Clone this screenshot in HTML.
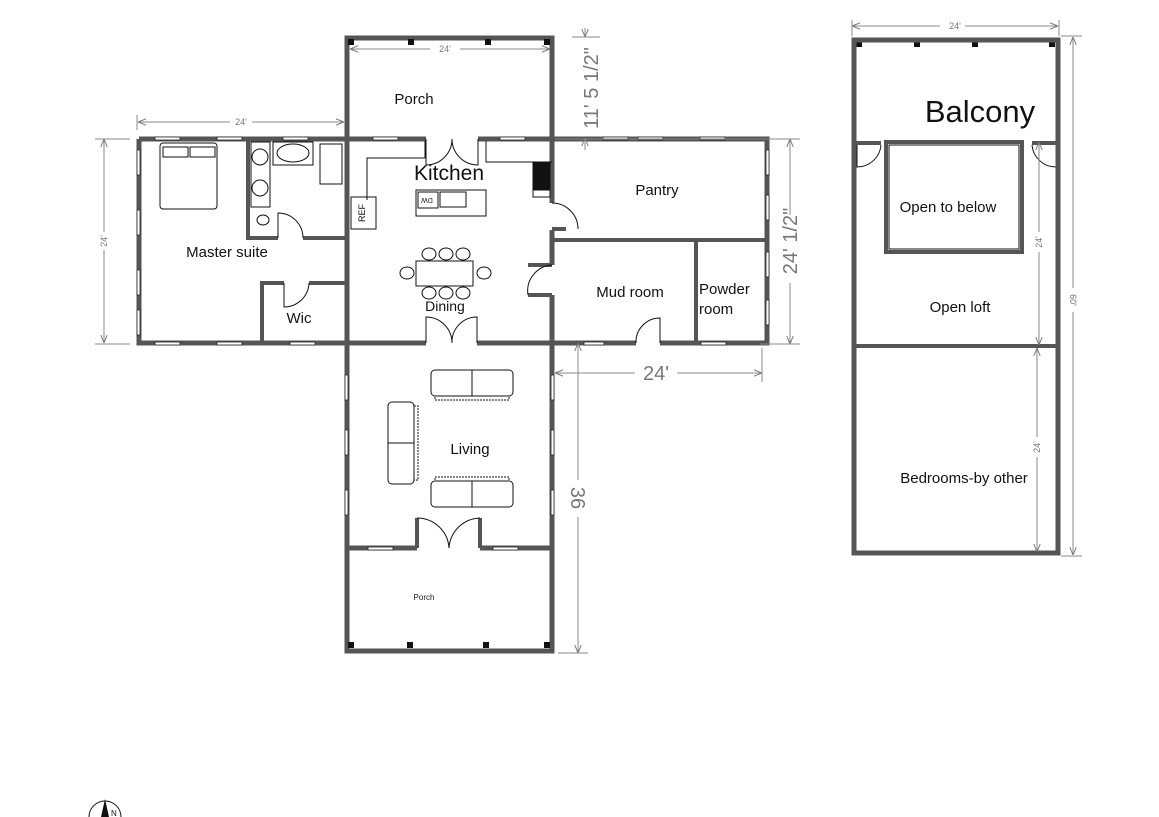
<!DOCTYPE html>
<html><head><meta charset="utf-8"><style>
html,body{margin:0;padding:0;background:#fff}
svg{display:block}
text{font-family:"Liberation Sans",sans-serif;fill:#111}
.w{fill:none;stroke:#555;stroke-width:5}
.iw{fill:none;stroke:#555;stroke-width:4}
.t{fill:none;stroke:#111;stroke-width:1}
.d{fill:none;stroke:#888;stroke-width:1}
.dt{fill:#777}
.win{fill:#fff;stroke:#222;stroke-width:0.8}
</style></head><body>
<svg width="1159" height="817" viewBox="0 0 1159 817" xmlns="http://www.w3.org/2000/svg">
<defs>
<marker id="a" viewBox="0 0 10 10" refX="10" refY="5" markerWidth="8" markerHeight="8" orient="auto-start-reverse"><path d="M0,1 L10,5 L0,9" fill="none" stroke="#777" stroke-width="1.2"/></marker>
</defs>
<path class="w" d="M347,139 V38 H552 V139"/>
<path class="w" d="M139,139 H347 M139,139 V343 H347"/>
<path class="w" d="M347,139 H426 M478,139 H767 V343 H660 M636,343 H552"/>
<path class="w" d="M347,139 V548 M552,139 V203 M552,230 V265 M552,295 V548"/>
<path class="w" d="M347,343 H426 M477,343 H552"/>
<path class="w" d="M347,548 H417 M480,548 H552 M347,548 V651 H552 V548"/>
<path class="iw" d="M248,139 V238 H278 M303,238 H347"/>
<path class="iw" d="M262,343 V283 H284 M309,283 H347"/>
<path class="iw" d="M552,240 H767 M696,240 V343"/>
<path class="iw" d="M552,229 H566 M552,295 H528 M552,265 H528"/>
<path class="iw" d="M417,548 V518 M480,548 V518"/>
<g fill="#111"><rect x="348" y="39" width="6" height="6"/><rect x="408" y="39" width="6" height="6"/><rect x="485" y="39" width="6" height="6"/><rect x="544" y="39" width="6" height="6"/>
<rect x="348" y="642" width="6" height="6"/><rect x="407" y="642" width="6" height="6"/><rect x="483" y="642" width="6" height="6"/><rect x="544" y="642" width="6" height="6"/>
<rect x="856" y="41" width="6" height="6"/><rect x="914" y="41" width="6" height="6"/><rect x="972" y="41" width="6" height="6"/><rect x="1049" y="41" width="6" height="6"/></g>
<g class="win">
<rect x="155" y="137" width="25" height="3"/><rect x="217" y="137" width="25" height="3"/><rect x="283" y="137" width="25" height="3"/>
<rect x="155" y="342" width="25" height="3"/><rect x="217" y="342" width="25" height="3"/><rect x="290" y="342" width="25" height="3"/>
<rect x="137" y="150" width="3" height="25"/><rect x="137" y="210" width="3" height="25"/><rect x="137" y="270" width="3" height="25"/><rect x="137" y="310" width="3" height="25"/>
<rect x="373" y="137" width="25" height="3"/><rect x="500" y="137" width="25" height="3"/><rect x="603" y="137" width="25" height="3"/><rect x="638" y="137" width="25" height="3"/><rect x="700" y="137" width="25" height="3"/>
<rect x="766" y="150" width="3" height="25"/><rect x="766" y="195" width="3" height="25"/><rect x="766" y="252" width="3" height="25"/><rect x="766" y="300" width="3" height="25"/>
<rect x="584" y="342" width="20" height="3"/><rect x="701" y="342" width="25" height="3"/>
<rect x="345" y="375" width="3" height="25"/><rect x="345" y="430" width="3" height="25"/><rect x="345" y="490" width="3" height="25"/>
<rect x="551" y="375" width="3" height="25"/><rect x="551" y="430" width="3" height="25"/><rect x="551" y="490" width="3" height="25"/>
<rect x="368" y="547" width="25" height="3"/><rect x="493" y="547" width="25" height="3"/>
<rect x="880" y="552" width="25" height="3"/><rect x="930" y="552" width="60" height="3"/><rect x="1003" y="552" width="25" height="3"/>
</g>
<g class="t">
<path d="M426,139 V165 A26,26 0 0 0 452,139 M478,139 V165 A26,26 0 0 1 452,139"/>
<path d="M426,343 V317 A26,26 0 0 1 452,343 M477,343 V317 A25,25 0 0 0 452,343"/>
<path d="M417,518 A32,32 0 0 1 449,548 M480,518 A32,32 0 0 0 449,548"/>
<path d="M278,238 V213 A25,25 0 0 1 303,238"/>
<path d="M284,283 V307 A25,25 0 0 0 309,283"/>
<path d="M552,203 A26,26 0 0 1 578,229"/>
<path d="M552,265 A26,26 0 0 0 528,295"/>
<path d="M660,343 V318 A24,24 0 0 0 636,343"/>
<path d="M857,145 V167 A24,24 0 0 0 881,145"/>
<path d="M1056,145 V167 A24,24 0 0 1 1032,145"/>
</g>
<g class="t">
<path d="M425,141 V158 H367 V200"/><rect x="351" y="197" width="25" height="32"/>
<path d="M486,141 V162 H552"/><rect x="533" y="163" width="17" height="27" fill="#111"/><rect x="533" y="190" width="17" height="7"/>
<rect x="416" y="190" width="70" height="26"/><rect x="418" y="192" width="20" height="16"/><rect x="440" y="192" width="26" height="15"/>
<rect x="416" y="261" width="57" height="25"/>
<ellipse cx="429" cy="254" rx="7" ry="6"/><ellipse cx="446" cy="254" rx="7" ry="6"/><ellipse cx="463" cy="254" rx="7" ry="6"/>
<ellipse cx="429" cy="293" rx="7" ry="6"/><ellipse cx="446" cy="293" rx="7" ry="6"/><ellipse cx="463" cy="293" rx="7" ry="6"/>
<ellipse cx="407" cy="273" rx="7" ry="6"/><ellipse cx="484" cy="273" rx="7" ry="6"/>
<rect x="160" y="143" width="57" height="66" rx="3"/><rect x="163" y="147" width="25" height="10"/><rect x="190" y="147" width="25" height="10"/>
<rect x="251" y="142" width="19" height="65"/><circle cx="260" cy="157" r="8"/><circle cx="260" cy="188" r="8"/>
<rect x="273" y="142" width="40" height="23"/><ellipse cx="293" cy="153" rx="16" ry="9"/>
<rect x="320" y="144" width="22" height="40"/><ellipse cx="263" cy="220" rx="6" ry="5"/>
<rect x="431" y="370" width="82" height="26" rx="4"/><line x1="472" y1="370" x2="472" y2="396"/><rect x="435" y="396" width="74" height="4" stroke-dasharray="2,1"/>
<rect x="431" y="481" width="82" height="26" rx="4"/><line x1="472" y1="481" x2="472" y2="507"/><rect x="435" y="477" width="74" height="4" stroke-dasharray="2,1"/>
<rect x="388" y="402" width="26" height="82" rx="4"/><line x1="388" y1="443" x2="414" y2="443"/><rect x="414" y="406" width="4" height="74" stroke-dasharray="2,1"/>
</g>
<rect class="w" x="854" y="40" width="204" height="513"/>
<path class="iw" d="M854,143 H881 M1032,143 H1058 M854,346 H1058"/>
<rect x="886" y="142" width="136" height="110" fill="none" stroke="#555" stroke-width="4"/>
<rect x="889" y="145" width="130" height="104" fill="none" stroke="#111" stroke-width="1"/>
<g class="d">
<line x1="350" y1="49" x2="430" y2="49" marker-start="url(#a)"/><line x1="460" y1="49" x2="550" y2="49" marker-end="url(#a)"/>
<line x1="138" y1="122" x2="230" y2="122" marker-start="url(#a)"/><line x1="252" y1="122" x2="344" y2="122" marker-end="url(#a)"/>
<line x1="137" y1="115" x2="137" y2="130"/>
<line x1="104" y1="139" x2="104" y2="232" marker-start="url(#a)"/><line x1="104" y1="250" x2="104" y2="343" marker-end="url(#a)"/>
<line x1="95" y1="139" x2="130" y2="139"/><line x1="95" y1="344" x2="130" y2="344"/>
<line x1="572" y1="37" x2="600" y2="37"/><line x1="585" y1="28" x2="585" y2="37" marker-end="url(#a)"/><line x1="585" y1="138" x2="585" y2="150" marker-start="url(#a)"/>
<line x1="555" y1="139" x2="800" y2="139"/><line x1="760" y1="344" x2="800" y2="344"/>
<line x1="790" y1="139" x2="790" y2="215" marker-start="url(#a)"/><line x1="790" y1="283" x2="790" y2="344" marker-end="url(#a)"/>
<line x1="555" y1="373" x2="635" y2="373" marker-start="url(#a)"/><line x1="677" y1="373" x2="762" y2="373" marker-end="url(#a)"/><line x1="762" y1="348" x2="762" y2="382"/>
<line x1="578" y1="343" x2="578" y2="480" marker-start="url(#a)"/><line x1="578" y1="517" x2="578" y2="653" marker-end="url(#a)"/><line x1="558" y1="653" x2="588" y2="653"/>
<line x1="852" y1="26" x2="940" y2="26" marker-start="url(#a)"/><line x1="965" y1="26" x2="1058" y2="26" marker-end="url(#a)"/><line x1="852" y1="20" x2="852" y2="36"/><line x1="1059" y1="20" x2="1059" y2="36"/>
<line x1="1061" y1="36" x2="1082" y2="36"/><line x1="1061" y1="556" x2="1082" y2="556"/>
<line x1="1073" y1="37" x2="1073" y2="288" marker-start="url(#a)"/><line x1="1073" y1="312" x2="1073" y2="555" marker-end="url(#a)"/>
<line x1="1039" y1="142" x2="1039" y2="232" marker-start="url(#a)"/><line x1="1039" y1="252" x2="1039" y2="345" marker-end="url(#a)"/>
<line x1="1037" y1="348" x2="1037" y2="437" marker-start="url(#a)"/><line x1="1037" y1="457" x2="1037" y2="552" marker-end="url(#a)"/>
</g>
<text x="414" y="104" font-size="15" text-anchor="middle">Porch</text>
<text x="449" y="180" font-size="21" text-anchor="middle">Kitchen</text>
<text x="657" y="195" font-size="15" text-anchor="middle">Pantry</text>
<text x="227" y="257" font-size="15" text-anchor="middle">Master suite</text>
<text x="299" y="323" font-size="15" text-anchor="middle">Wic</text>
<text x="445" y="311" font-size="14" text-anchor="middle">Dining</text>
<text x="630" y="297" font-size="15" text-anchor="middle">Mud room</text>
<text x="699" y="294" font-size="15">Powder</text>
<text x="699" y="314" font-size="15">room</text>
<text x="470" y="454" font-size="15" text-anchor="middle">Living</text>
<text x="424" y="600" font-size="8" text-anchor="middle">Porch</text>
<text x="363" y="215" font-size="9" transform="rotate(-90 363 213)" text-anchor="middle">REF</text>
<text x="427" y="202" font-size="7" transform="rotate(180 427 200)" text-anchor="middle">DW</text>
<text x="980" y="122" font-size="31" text-anchor="middle">Balcony</text>
<text x="948" y="212" font-size="15" text-anchor="middle">Open to below</text>
<text x="960" y="312" font-size="15" text-anchor="middle">Open loft</text>
<text x="964" y="483" font-size="15" text-anchor="middle">Bedrooms-by other</text>
<g class="dt" font-size="9">
<text x="445" y="52" text-anchor="middle" class="dt">24'</text>
<text x="241" y="125" text-anchor="middle" class="dt">24'</text>
<text x="955" y="29" text-anchor="middle" class="dt">24'</text>
<text class="dt" transform="translate(107,241) rotate(-90)" text-anchor="middle">24'</text>
<text class="dt" transform="translate(1042,242) rotate(-90)" text-anchor="middle">24'</text>
<text class="dt" transform="translate(1040,447) rotate(-90)" text-anchor="middle">24'</text>
<text class="dt" transform="translate(1070,300) rotate(90)" text-anchor="middle">60'</text>
</g>
<text class="dt" font-size="20" transform="translate(598,88) rotate(-90)" text-anchor="middle">11' 5 1/2"</text>
<text class="dt" font-size="20" transform="translate(797,241) rotate(-90)" text-anchor="middle">24' 1/2"</text>
<text class="dt" font-size="20" x="656" y="380" text-anchor="middle">24'</text>
<text class="dt" font-size="20" transform="translate(571,498) rotate(90)" text-anchor="middle">36</text>
<path d="M89,817 A16,16 0 0 1 121,817" fill="none" stroke="#111" stroke-width="1"/>
<path d="M105,799 L101,817 H109 Z" fill="#111"/>
<text x="111" y="816" font-size="8">N</text>
</svg>
</body></html>
